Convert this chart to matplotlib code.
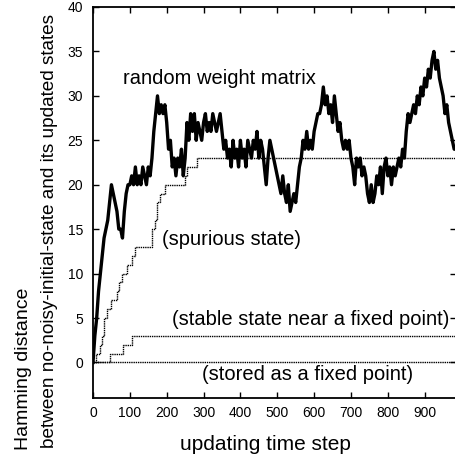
import matplotlib
matplotlib.use("Agg")
import matplotlib.pyplot as plt
import numpy as np

plt.rcParams['font.family'] = ['Liberation Sans', 'DejaVu Sans']

# random weight matrix: Hamming distance every 5 steps (t = 0, 5, ..., 985)
random_steps = np.arange(0, 990, 5)
random_dist = [
    0, 3, 5, 8, 10, 12, 14, 15, 16, 18,
    20, 19, 18, 17, 15, 15, 14, 17, 19, 20,
    20, 21, 20, 22, 20, 21, 20, 22, 21, 20,
    22, 21, 23, 26, 28, 30, 28, 29, 28, 29,
    27, 24, 25, 22, 23, 21, 23, 22, 24, 21,
    23, 27, 25, 28, 26, 28, 25, 27, 26, 25,
    27, 28, 26, 27, 26, 28, 27, 26, 27, 28,
    26, 24, 25, 23, 24, 22, 25, 23, 24, 22,
    25, 23, 24, 22, 25, 24, 23, 25, 24, 26,
    23, 25, 24, 22, 20, 23, 25, 24, 23, 22,
    21, 20, 19, 21, 19, 18, 20, 17, 18, 19,
    18, 20, 22, 23, 25, 24, 26, 24, 25, 24,
    26, 27, 28, 28, 29, 31, 29, 30, 28, 29,
    27, 30, 28, 26, 27, 25, 24, 25, 24, 25,
    23, 22, 20, 23, 22, 23, 21, 22, 21, 19,
    18, 20, 18, 19, 21, 20, 22, 19, 22, 23,
    21, 22, 20, 22, 21, 22, 23, 22, 24, 23,
    26, 28, 27, 28, 29, 28, 30, 29, 31, 30,
    32, 31, 33, 32, 34, 35, 33, 34, 32, 31,
    30, 28, 29, 27, 26, 25, 24, 24,
]

# spurious state: step changes (time step, distance)
spurious_steps = [0, 8, 20, 24, 29, 38, 49, 65, 70, 79, 92, 106, 114, 123,
                  160, 169, 173, 181, 195, 249, 255, 282, 985]
spurious_dist = [0, 1, 2, 3, 5, 6, 7, 8, 9, 10, 11, 12, 13, 13,
                 15, 16, 18, 19, 20, 21, 22, 23, 23]

# stable state near a fixed point
stable_steps = [0, 46, 81, 105, 985]
stable_dist = [0, 1, 2, 3, 3]

# stored as a fixed point
stored_steps = [0, 985]
stored_dist = [0, 0]

fig = plt.figure(figsize=(4.56, 4.55), dpi=100)
ax = fig.add_axes([93 / 456, 57 / 455, 1 - 93 / 456, 391 / 455])

ax.plot(random_steps, random_dist, color='black', linewidth=2.4)
ax.plot(spurious_steps, spurious_dist, color='black', linewidth=1.0,
        linestyle=(0, (1, 0.6)), drawstyle='steps-post')
ax.plot(stable_steps, stable_dist, color='black', linewidth=1.0,
        linestyle=(0, (1, 0.6)), drawstyle='steps-post')
ax.plot(stored_steps, stored_dist, color='black', linewidth=1.0,
        linestyle=(0, (1, 0.6)))

ax.text(81, 32, 'random weight matrix', fontsize=14.5, va='center')
ax.text(187, 13.8, '(spurious state)', fontsize=14.5, va='center')
ax.text(214, 4.8, '(stable state near a fixed point)', fontsize=14.5, va='center')
ax.text(295, -1.35, '(stored as a fixed point)', fontsize=14.5, va='center')

ax.set_xlim(0, 985)
ax.set_ylim(-4, 40)
ax.set_xticks(range(0, 1000, 100))
ax.set_yticks(range(0, 45, 5))
ax.tick_params(direction='in', length=4, width=1, labelsize=10,
               top=True, right=True)
ax.tick_params(axis='y', pad=7)
ax.tick_params(axis='x', pad=6)
ax.spines['right'].set_visible(False)
for s in ['left', 'bottom', 'top']:
    ax.spines[s].set_linewidth(1.3)

fig.text(265 / 456, 1 - 445 / 455, 'updating time step', fontsize=15,
         ha='center', va='center')
fig.text(24 / 456, 5 / 455, 'Hamming distance', fontsize=14,
         rotation=90, ha='center', va='bottom')
fig.text(50 / 456, 7 / 455,
         'between no-noisy-initial-state and its updated states',
         fontsize=13.7, rotation=90, ha='center', va='bottom')

fig.savefig('out.png', dpi=100)
